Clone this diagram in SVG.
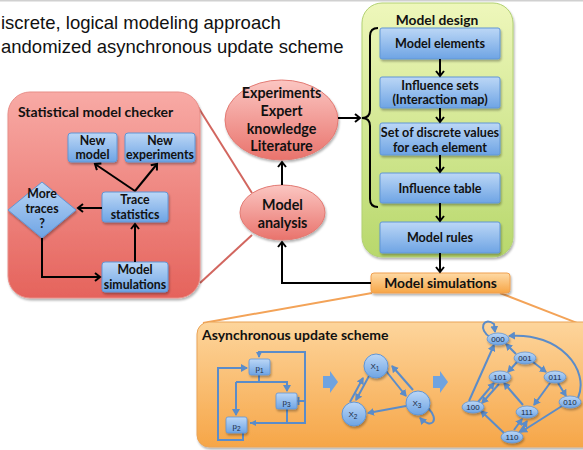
<svg xmlns="http://www.w3.org/2000/svg" width="583" height="450" viewBox="0 0 583 450">
<style>
.t{font-family:"Lato","Liberation Sans",sans-serif;font-weight:bold;fill:#111;text-anchor:middle}
.ti{font-family:"Liberation Sans",Arial,sans-serif;fill:#111}
.bb{fill:url(#gBlue);stroke:#6196d6;stroke-width:1}
.k{fill:none;stroke:#000;stroke-width:2}
.ka{fill:none;stroke:#000;stroke-width:2;marker-end:url(#ah)}
.bl{fill:none;stroke:#5b8cc9;stroke-width:2}
.bla{fill:none;stroke:#5b8cc9;stroke-width:2;marker-end:url(#bh)}
.st{fill:url(#gBlue);stroke:#6196d6;stroke-width:0.8}
.sl{font-family:"Liberation Sans",Arial,sans-serif;font-size:8px;fill:#1a2a44;text-anchor:middle}
</style>
<defs>
<linearGradient id="gBlue" x1="0" y1="0" x2="0" y2="1"><stop offset="0" stop-color="#bcd7f6"/><stop offset="1" stop-color="#6ea4e4"/></linearGradient>
<linearGradient id="gRed" x1="0" y1="0" x2="0" y2="1"><stop offset="0" stop-color="#f8aaa5"/><stop offset="1" stop-color="#e5635c"/></linearGradient>
<linearGradient id="gEll" x1="0" y1="0" x2="0" y2="1"><stop offset="0" stop-color="#fbc6c2"/><stop offset="1" stop-color="#e9736c"/></linearGradient>
<linearGradient id="gGreen" x1="0" y1="0" x2="0" y2="1"><stop offset="0" stop-color="#eef7bb"/><stop offset="1" stop-color="#b8d86c"/></linearGradient>
<linearGradient id="gOr" x1="0" y1="0" x2="0" y2="1"><stop offset="0" stop-color="#fedaa6"/><stop offset="1" stop-color="#f7a545"/></linearGradient>
<linearGradient id="gPanel" x1="0" y1="0" x2="0" y2="1"><stop offset="0" stop-color="#fdd59c"/><stop offset="1" stop-color="#f6a648"/></linearGradient>
<filter id="sh" x="-20%" y="-20%" width="140%" height="150%"><feDropShadow dx="1" dy="2" stdDeviation="1.2" flood-color="#000" flood-opacity="0.3"/></filter>
<marker id="ah" markerWidth="8" markerHeight="10" refX="6" refY="5" orient="auto" markerUnits="userSpaceOnUse"><path d="M1,1 L6,5 L1,9" fill="none" stroke="#000" stroke-width="2"/></marker>
<marker id="bh" markerWidth="8" markerHeight="8" refX="6" refY="4" orient="auto" markerUnits="userSpaceOnUse"><path d="M0,0 L7,4 L0,8 Z" fill="#5b8cc9"/></marker>
</defs>
<rect x="0" y="0" width="583" height="1.5" fill="#d0d0d0"/>
<text class="ti" x="1" y="29" font-size="18.5">iscrete, logical modeling approach</text>
<text class="ti" x="1" y="53" font-size="18.5">andomized asynchronous update scheme</text>

<g id="zoomlines">
<line x1="198" y1="107" x2="252" y2="193" stroke="#d2665f" stroke-width="2"/>
<line x1="200" y1="283" x2="252" y2="235" stroke="#d2665f" stroke-width="2"/>
<line x1="372" y1="293" x2="203" y2="323" stroke="#f3a358" stroke-width="2"/>
<line x1="500" y1="293" x2="585" y2="326" stroke="#f3a358" stroke-width="2"/>
</g>

<g id="checker">
<rect x="8" y="92" width="192" height="206" rx="22" fill="url(#gRed)" stroke="#e88e88" stroke-width="1" filter="url(#sh)"/>
<text class="t" x="18" y="117" font-size="14" style="text-anchor:start">Statistical model checker</text>
</g>
<g id="newmodel"><rect class="bb" x="68" y="133" width="49" height="29" rx="3" filter="url(#sh)"/><text class="t" font-size="12.3" x="92.5" y="145">New</text><text class="t" font-size="12.3" x="92.5" y="159">model</text></g>
<g id="newexp"><rect class="bb" x="125" y="133" width="70" height="29" rx="3" filter="url(#sh)"/><text class="t" font-size="12.3" x="160" y="145">New</text><text class="t" font-size="12.3" x="160" y="159">experiments</text></g>
<g id="trace"><rect class="bb" x="102" y="192" width="66" height="30" rx="3" filter="url(#sh)"/><text class="t" font-size="12.3" x="135" y="204">Trace</text><text class="t" font-size="12.3" x="135" y="219">statistics</text></g>
<g id="more"><path d="M42,182 L76,210 L42,238 L8,210 Z" fill="url(#gBlue)" stroke="#6196d6" filter="url(#sh)"/><text class="t" font-size="12.3" x="42" y="198">More</text><text class="t" font-size="12.3" x="42" y="213">traces</text><text class="t" font-size="12.3" x="42" y="228">?</text></g>
<g id="msim1"><rect class="bb" x="102" y="262" width="66" height="30" rx="3" filter="url(#sh)"/><text class="t" font-size="12.3" x="135" y="274">Model</text><text class="t" font-size="12.3" x="135" y="289">simulations</text></g>

<g id="experiments"><ellipse cx="281.5" cy="120" rx="56.5" ry="40" fill="url(#gEll)" stroke="#e27a73" stroke-width="1" filter="url(#sh)"/>
<text class="t" font-size="14.3" x="281.5" y="98">Experiments</text><text class="t" font-size="14.3" x="281.5" y="116">Expert</text><text class="t" font-size="14.3" x="281.5" y="134">knowledge</text><text class="t" font-size="14.3" x="281.5" y="151">Literature</text></g>
<g id="analysis"><ellipse cx="282.5" cy="212.5" rx="42.5" ry="27.5" fill="url(#gEll)" stroke="#e27a73" stroke-width="1" filter="url(#sh)"/>
<text class="t" font-size="14.3" x="282.5" y="210">Model</text><text class="t" font-size="14.3" x="282.5" y="228">analysis</text></g>

<g id="design">
<rect x="362" y="3" width="151" height="254" rx="20" fill="url(#gGreen)" stroke="#b2d173" stroke-width="1" filter="url(#sh)"/>
<text class="t" font-size="13.8" x="437" y="25">Model design</text>
</g>
<g id="elements"><rect class="bb" x="380" y="28" width="120" height="31" rx="2" filter="url(#sh)"/><text class="t" font-size="12.6" x="440" y="48">Model elements</text></g>
<g id="influence"><rect class="bb" x="380" y="77" width="120" height="31" rx="2" filter="url(#sh)"/><text class="t" font-size="12.6" x="440" y="90">Influence sets</text><text class="t" font-size="12.6" x="440" y="104">(Interaction map)</text></g>
<g id="discrete"><rect class="bb" x="380" y="123" width="120" height="32" rx="2" filter="url(#sh)"/><text class="t" font-size="12.6" x="440" y="137">Set of discrete values</text><text class="t" font-size="12.6" x="440" y="152">for each element</text></g>
<g id="table"><rect class="bb" x="380" y="173" width="120" height="30" rx="2" filter="url(#sh)"/><text class="t" font-size="12.6" x="440" y="193">Influence table</text></g>
<g id="rules"><rect class="bb" x="380" y="222" width="120" height="31" rx="2" filter="url(#sh)"/><text class="t" font-size="12.6" x="440" y="242">Model rules</text></g>
<g id="msim2"><rect x="371" y="273" width="139" height="20" rx="3" fill="url(#gOr)" stroke="#f0a050" stroke-width="1" filter="url(#sh)"/><text class="t" font-size="13.8" x="440.5" y="288">Model simulations</text></g>

<g id="connectors">
<line class="ka" x1="135" y1="191" x2="95" y2="164"/>
<line class="ka" x1="135" y1="191" x2="157" y2="164"/>
<line class="ka" x1="102" y1="208" x2="78" y2="208"/>
<line class="ka" x1="135" y1="262" x2="135" y2="224"/>
<path class="ka" d="M42,238 L42,277 L100,277"/>
<line class="ka" x1="282" y1="185" x2="282" y2="162"/>
<line class="ka" x1="338" y1="118" x2="360" y2="118"/>
<path class="k" d="M378,28 Q370,28 370,36 L370,110 Q370,118 362,118 Q370,118 370,126 L370,199 Q370,207 378,207"/>
<path class="ka" d="M371,283 L282,283 L282,242"/>
<line class="ka" x1="440" y1="59" x2="440" y2="76"/>
<line class="ka" x1="440" y1="108" x2="440" y2="122"/>
<line class="ka" x1="440" y1="155" x2="440" y2="172"/>
<line class="ka" x1="440" y1="203" x2="440" y2="221"/>
<line class="ka" x1="440" y1="253" x2="440" y2="272"/>
</g>

<g id="async">
<rect x="197" y="322" width="400" height="125" rx="12" fill="url(#gPanel)" stroke="#eaa458" stroke-width="1" filter="url(#sh)"/>
<text class="t" font-size="14" x="202" y="340" style="text-anchor:start">Asynchronous update scheme</text>
<!-- p network -->
<path class="bl" d="M305,400 L305,352 L259,352 L259,357"/>
<path class="bl" d="M305,400 L305,423 L250,423"/>
<path d="M250,423 L256,420 L256,426 Z" fill="#5b8cc9"/>
<path d="M259,358 L256,352 L262,352 Z" fill="#5b8cc9"/>
<line class="bl" x1="297" y1="401" x2="305" y2="401"/>
<line class="bl" x1="298.5" y1="397" x2="298.5" y2="405"/>
<line class="bl" x1="287" y1="409" x2="287" y2="423"/>
<path class="bl" d="M259,375 L259,382"/>
<path class="bla" d="M236,382 L287,382 L287,391"/>
<path class="bla" d="M236,382 L236,415"/>
<path class="bla" d="M243,433 L243,440 L218,440 L218,368 L247,368"/>
<g filter="url(#sh)">
<rect class="st" x="249" y="359" width="21" height="16" rx="2"/>
<rect class="st" x="276" y="393" width="21" height="16" rx="2"/>
<rect class="st" x="226" y="417" width="21" height="16" rx="2"/>
</g>
<text class="sl" font-size="10" x="259.5" y="371">p<tspan font-size="6.5" dy="2">1</tspan></text>
<text class="sl" font-size="10" x="286.5" y="405">p<tspan font-size="6.5" dy="2">3</tspan></text>
<text class="sl" font-size="10" x="236.5" y="429">p<tspan font-size="6.5" dy="2">2</tspan></text>
<!-- block arrows -->
<path d="M323,376 L330,376 L330,371 L338,382 L330,393 L330,388 L323,388 Z" fill="#6fa3e0"/>
<path d="M433,376 L440,376 L440,371 L448,382 L440,393 L440,388 L433,388 Z" fill="#6fa3e0"/>
<!-- X network -->
<line class="bla" x1="369" y1="376" x2="356" y2="400"/>
<line class="bla" x1="350" y1="402" x2="363" y2="378"/>
<line class="bla" x1="386" y1="371" x2="406" y2="396"/>
<line class="bla" x1="413" y1="390" x2="392" y2="366"/>
<line class="bla" x1="406" y1="406" x2="368" y2="413"/>
<path class="bla" d="M428,408 C440,420 432,430 420,418"/>
<g filter="url(#sh)">
<circle cx="376" cy="366" r="12" fill="url(#gBlue)" stroke="#6196d6"/>
<circle cx="354" cy="414" r="12" fill="url(#gBlue)" stroke="#6196d6"/>
<circle cx="418" cy="403" r="12" fill="url(#gBlue)" stroke="#6196d6"/>
</g>
<text class="sl" font-size="10" x="375" y="369">X<tspan font-size="6.5" dy="2">1</tspan></text>
<text class="sl" font-size="10" x="353" y="417">X<tspan font-size="6.5" dy="2">2</tspan></text>
<text class="sl" font-size="10" x="417" y="406">X<tspan font-size="6.5" dy="2">3</tspan></text>
<!-- state graph -->
<path class="bla" d="M490,337 C478,330 483,316 494,324 L495,332"/>
<line class="bla" x1="516" y1="354" x2="506" y2="344"/>
<line class="bla" x1="517" y1="362" x2="508" y2="372"/>
<line class="bla" x1="533" y1="362" x2="546" y2="372"/>
<line class="bla" x1="550" y1="383" x2="534" y2="405"/>
<line class="bla" x1="558" y1="383" x2="566" y2="396"/>
<path class="bla" d="M578,398 C590,370 560,332 509,336"/>
<line class="bla" x1="562" y1="406" x2="521" y2="432"/>
<line class="bla" x1="504" y1="433" x2="481" y2="411"/>
<line class="bla" x1="514" y1="430" x2="522" y2="419"/>
<line class="bla" x1="519" y1="433" x2="527" y2="421"/>
<line class="bla" x1="523" y1="405" x2="504" y2="383"/>
<line class="bla" x1="478" y1="402" x2="494" y2="383"/>
<line class="bla" x1="499" y1="384" x2="482" y2="403"/>
<line class="bla" x1="469" y1="401" x2="494" y2="345"/>
<g filter="url(#sh)">
<ellipse class="st" cx="498" cy="339" rx="11" ry="6"/>
<ellipse class="st" cx="525" cy="358" rx="11" ry="6"/>
<ellipse class="st" cx="500" cy="377" rx="11" ry="6"/>
<ellipse class="st" cx="555" cy="377" rx="11" ry="6"/>
<ellipse class="st" cx="473" cy="407" rx="11" ry="6"/>
<ellipse class="st" cx="527" cy="412" rx="11" ry="6"/>
<ellipse class="st" cx="570" cy="402" rx="11" ry="6"/>
<ellipse class="st" cx="512" cy="437" rx="11" ry="6"/>
</g>
<text class="sl" x="498" y="342">000</text>
<text class="sl" x="525" y="361">001</text>
<text class="sl" x="500" y="380">101</text>
<text class="sl" x="555" y="380">011</text>
<text class="sl" x="473" y="410">100</text>
<text class="sl" x="527" y="415">111</text>
<text class="sl" x="570" y="405">010</text>
<text class="sl" x="512" y="440">110</text>
</g>
</svg>
